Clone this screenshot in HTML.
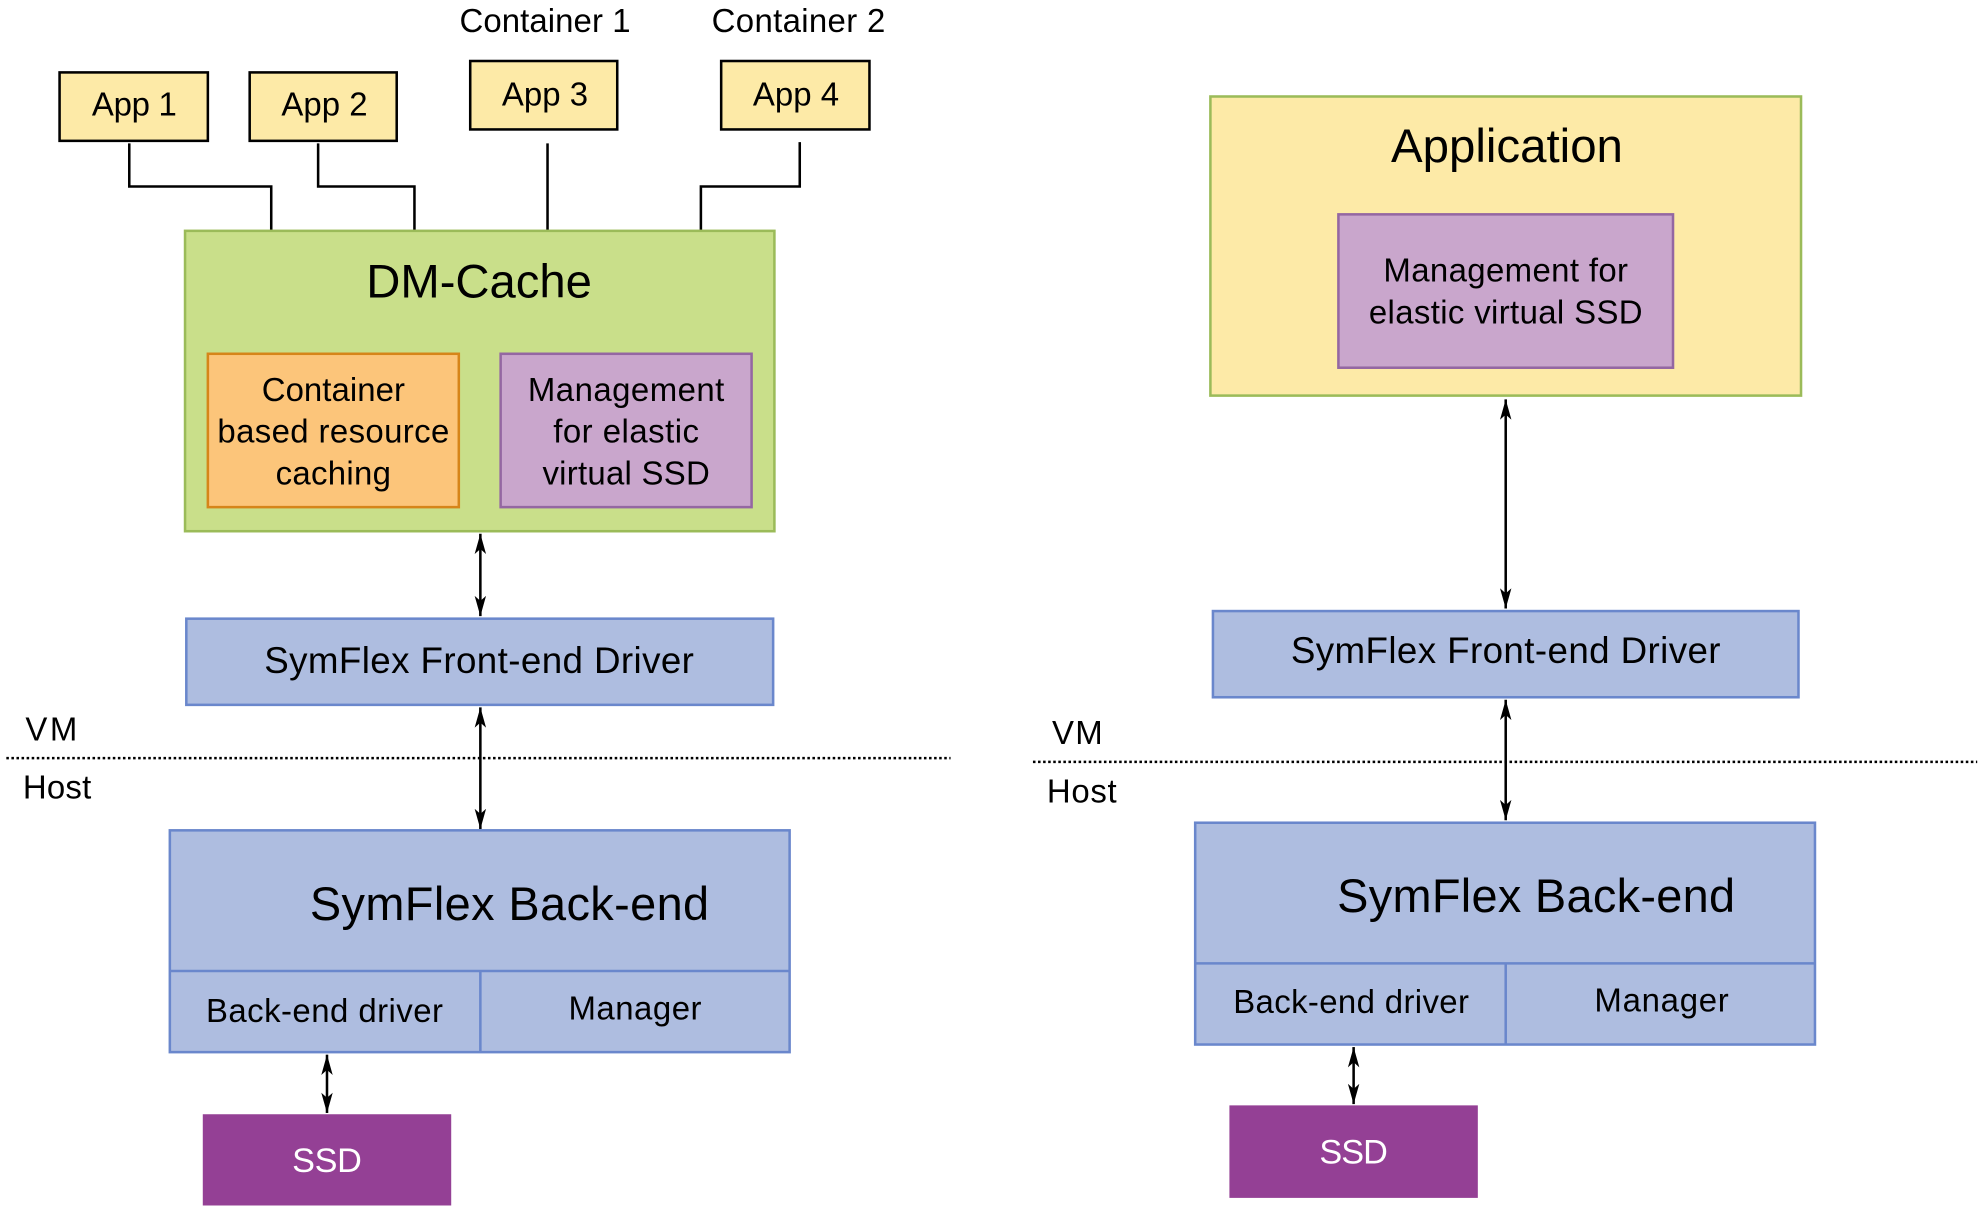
<!DOCTYPE html>
<html><head><meta charset="utf-8"><style>html,body{margin:0;padding:0;background:#fff}svg{display:block}</style></head>
<body>
<svg width="1981" height="1212" viewBox="0 0 1563 956" xmlns="http://www.w3.org/2000/svg" font-family="Liberation Sans, Arial, sans-serif" text-anchor="middle" dominant-baseline="central">
<defs>
<marker id="a" viewBox="0 0 16 10" refX="16" refY="5" markerWidth="16" markerHeight="10" orient="auto-start-reverse" markerUnits="userSpaceOnUse">
<path d="M0,0.5 L16,5 L0,9.5 L4,5 Z" fill="#000"/>
</marker>
</defs>
<g stroke="#000" stroke-width="2" fill="#fdeaa7">
<rect x="47" y="57" width="117" height="54"/>
<rect x="197" y="57" width="116" height="54"/>
<rect x="371" y="48" width="116" height="54"/>
<rect x="569" y="48" width="117" height="54"/>
</g>
<g font-size="26" fill="#000" lengthAdjust="spacingAndGlyphs">
<text x="106" y="82" textLength="67">App 1</text><text x="256" y="82" textLength="68">App 2</text>
<text x="430" y="74" textLength="68">App 3</text><text x="628" y="74" textLength="68">App 4</text>
<text x="430" y="16" textLength="135">Container 1</text><text x="630" y="16" textLength="137">Container 2</text>
</g>
<g stroke="#000" stroke-width="2" fill="none">
<polyline points="102,113 102,147 214,147 214,182"/>
<polyline points="251,113 251,147 327,147 327,182"/>
<polyline points="432,113 432,182"/>
<polyline points="631,112 631,147 553,147 553,182"/>
</g>
<rect x="146" y="182" width="465" height="237" fill="#c9df8a" stroke="#9bbb59" stroke-width="2"/>
<text x="378" y="222" font-size="37" textLength="178" lengthAdjust="spacingAndGlyphs">DM-Cache</text>
<rect x="164" y="279" width="198" height="121" fill="#fcc57a" stroke="#d6851a" stroke-width="2"/>
<rect x="395" y="279" width="198" height="121" fill="#c9a6cc" stroke="#9467a2" stroke-width="2"/>
<g font-size="26" lengthAdjust="spacingAndGlyphs">
<text x="263" y="307" textLength="113">Container</text><text x="263" y="340" textLength="183">based resource</text><text x="263" y="373" textLength="91">caching</text>
<text x="494" y="307" textLength="155">Management</text><text x="494" y="340" textLength="115">for elastic</text><text x="494" y="373" textLength="132">virtual SSD</text>
</g>
<g stroke="#000" stroke-width="2" marker-start="url(#a)" marker-end="url(#a)">
<line x1="379" y1="421" x2="379" y2="486"/>
<line x1="379" y1="558" x2="379" y2="654"/>
<line x1="258" y1="832" x2="258" y2="878"/>
<line x1="1188" y1="315" x2="1188" y2="480"/>
<line x1="1188" y1="552" x2="1188" y2="647"/>
<line x1="1068" y1="826" x2="1068" y2="871"/>
</g>
<g fill="#aebde0" stroke="#6a87cc" stroke-width="2">
<rect x="147" y="488" width="463" height="68"/>
<rect x="134" y="655" width="489" height="175"/>
<line x1="134" y1="766" x2="623" y2="766"/><line x1="379" y1="766" x2="379" y2="830"/>
<rect x="957" y="482" width="462" height="68"/>
<rect x="943" y="649" width="489" height="175"/>
<line x1="943" y1="760" x2="1432" y2="760"/><line x1="1188" y1="760" x2="1188" y2="824"/>
</g>
<g font-size="29" lengthAdjust="spacingAndGlyphs">
<text x="378" y="521" textLength="339">SymFlex Front-end Driver</text>
<text x="1188" y="513" textLength="339">SymFlex Front-end Driver</text>
</g>
<g font-size="37" lengthAdjust="spacingAndGlyphs">
<text x="402" y="713" textLength="315">SymFlex Back-end</text>
<text x="1212" y="707" textLength="314">SymFlex Back-end</text>
</g>
<g font-size="26" lengthAdjust="spacingAndGlyphs">
<text x="256" y="797" textLength="187">Back-end driver</text><text x="501" y="795" textLength="105">Manager</text>
<text x="1066" y="790" textLength="186">Back-end driver</text><text x="1311" y="789" textLength="106">Manager</text>
</g>
<g font-size="26" text-anchor="start" lengthAdjust="spacingAndGlyphs">
<text x="20" y="575" textLength="41">VM</text><text x="18" y="621" textLength="54">Host</text>
<text x="830" y="578" textLength="40">VM</text><text x="826" y="624" textLength="55">Host</text>
</g>
<g stroke="#000" stroke-width="2" stroke-dasharray="2,2">
<line x1="5" y1="598" x2="750" y2="598"/>
<line x1="815" y1="601" x2="1560" y2="601"/>
</g>
<rect x="160" y="879" width="196" height="72" fill="#944095"/>
<rect x="970" y="872" width="196" height="73" fill="#944095"/>
<g font-size="27" fill="#fff" lengthAdjust="spacingAndGlyphs">
<text x="258" y="916" textLength="55">SSD</text><text x="1068" y="909" textLength="54">SSD</text>
</g>
<rect x="955" y="76" width="466" height="236" fill="#fdeaa7" stroke="#9bbb59" stroke-width="2"/>
<text x="1189" y="115" font-size="37" textLength="183" lengthAdjust="spacingAndGlyphs">Application</text>
<rect x="1056" y="169" width="264" height="121" fill="#c9a6cc" stroke="#9467a2" stroke-width="2"/>
<g font-size="26" lengthAdjust="spacingAndGlyphs"><text x="1188" y="213" textLength="193">Management for</text><text x="1188" y="246" textLength="216">elastic virtual SSD</text></g>
</svg>
</body></html>
